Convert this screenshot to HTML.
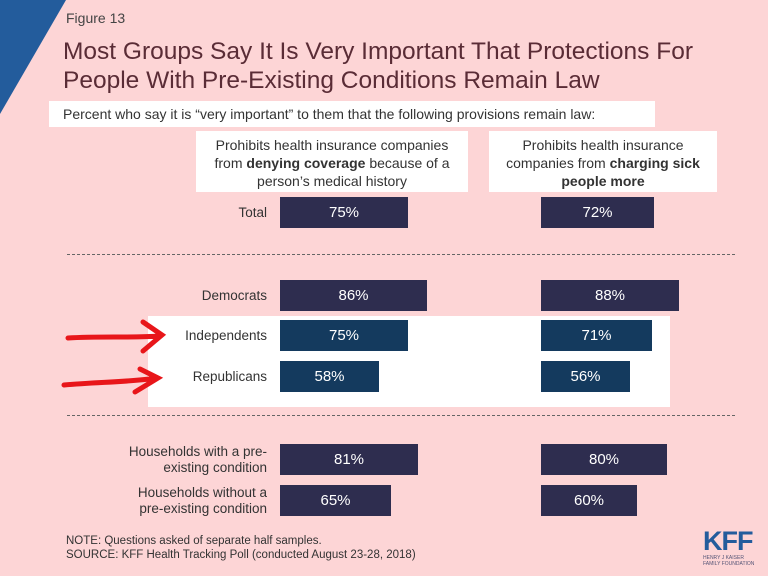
<!DOCTYPE html><html><head><style>
body{margin:0}
#c{position:relative;width:768px;height:576px;background:#FDD5D6;overflow:hidden;font-family:"Liberation Sans",sans-serif}
.a{position:absolute}
.bar{position:absolute;height:31px;color:#fff;font-size:15px;line-height:31px;text-align:center;background:#2E2D4F}
.d{background:#143A5E}
.lab{position:absolute;right:501px;font-size:13.5px;color:#333;text-align:right;line-height:16px}
.hd{position:absolute;background:#fff;font-size:14px;color:#333;text-align:center;line-height:18px}
.dash{position:absolute;left:67px;width:668px;border-top:1px dashed #666}
</style></head><body><div id="c">
<div class="a" style="left:148px;top:316px;width:522px;height:91px;background:#fff"></div>
<svg class="a" style="left:0;top:0" width="768" height="576">
<polygon points="0,0 66,0 0,114" fill="#235C9C"/>
<path d="M68,338 C100,336 130,338 160,336 M143,322 L162,335 L143,351" stroke="#E8161A" stroke-width="5" fill="none" stroke-linecap="round"/>
<path d="M64,385 C100,382 130,382 158,378 M140,369 L158,378 L135,392" stroke="#E8161A" stroke-width="5" fill="none" stroke-linecap="round"/>
</svg>
<div class="a" style="left:66px;top:10px;font-size:14px;color:#444">Figure 13</div>
<div class="a" style="left:63px;top:37px;font-size:24.5px;color:#5A2C36;line-height:29px">Most Groups Say It Is Very Important That Protections For<br>People With Pre-Existing Conditions Remain Law</div>
<div class="a" style="left:49px;top:101px;width:606px;height:26px;background:#fff;font-size:14px;color:#333;line-height:26px;padding-left:14px;box-sizing:border-box">Percent who say it is “very important” to them that the following provisions remain law:</div>
<div class="hd" style="left:196px;top:131px;width:272px;height:61px;padding-top:5px;box-sizing:border-box">Prohibits health insurance companies<br>from <b>denying coverage</b> because of a<br>person’s medical history</div>
<div class="hd" style="left:489px;top:131px;width:228px;height:61px;padding-top:5px;box-sizing:border-box">Prohibits health insurance<br>companies from <b>charging sick<br>people more</b></div>
<div class="dash" style="top:254px"></div><div class="dash" style="top:415px"></div>
<div class="lab" style="top:205px">Total</div>
<div class="lab" style="top:288px">Democrats</div>
<div class="lab" style="top:328px">Independents</div>
<div class="lab" style="top:369px">Republicans</div>
<div class="lab" style="top:444px">Households with a pre-<br>existing condition</div>
<div class="lab" style="top:485px">Households without a<br>pre-existing condition</div>
<div class="bar" style="left:280px;top:197px;width:128px">75%</div>
<div class="bar" style="left:541px;top:197px;width:113px">72%</div>
<div class="bar" style="left:280px;top:280px;width:147px">86%</div>
<div class="bar" style="left:541px;top:280px;width:138px">88%</div>
<div class="bar d" style="left:280px;top:320px;width:128px">75%</div>
<div class="bar d" style="left:541px;top:320px;width:111px">71%</div>
<div class="bar d" style="left:280px;top:361px;width:99px">58%</div>
<div class="bar d" style="left:541px;top:361px;width:89px">56%</div>
<div class="bar" style="left:280px;top:444px;width:138px">81%</div>
<div class="bar" style="left:541px;top:444px;width:126px">80%</div>
<div class="bar" style="left:280px;top:485px;width:111px">65%</div>
<div class="bar" style="left:541px;top:485px;width:96px">60%</div>
<div class="a" style="left:66px;top:534px;font-size:11.5px;color:#333;line-height:14px">NOTE: Questions asked of separate half samples.<br>SOURCE: KFF Health Tracking Poll (conducted August 23-28, 2018)</div>
<div class="a" style="left:703px;top:527px;font-size:27px;font-weight:bold;color:#235C9C;letter-spacing:-1px;line-height:28px">KFF</div>
<div class="a" style="left:703px;top:555px;font-size:5px;color:#557;line-height:6px">HENRY J KAISER<br>FAMILY FOUNDATION</div>
</div></body></html>
